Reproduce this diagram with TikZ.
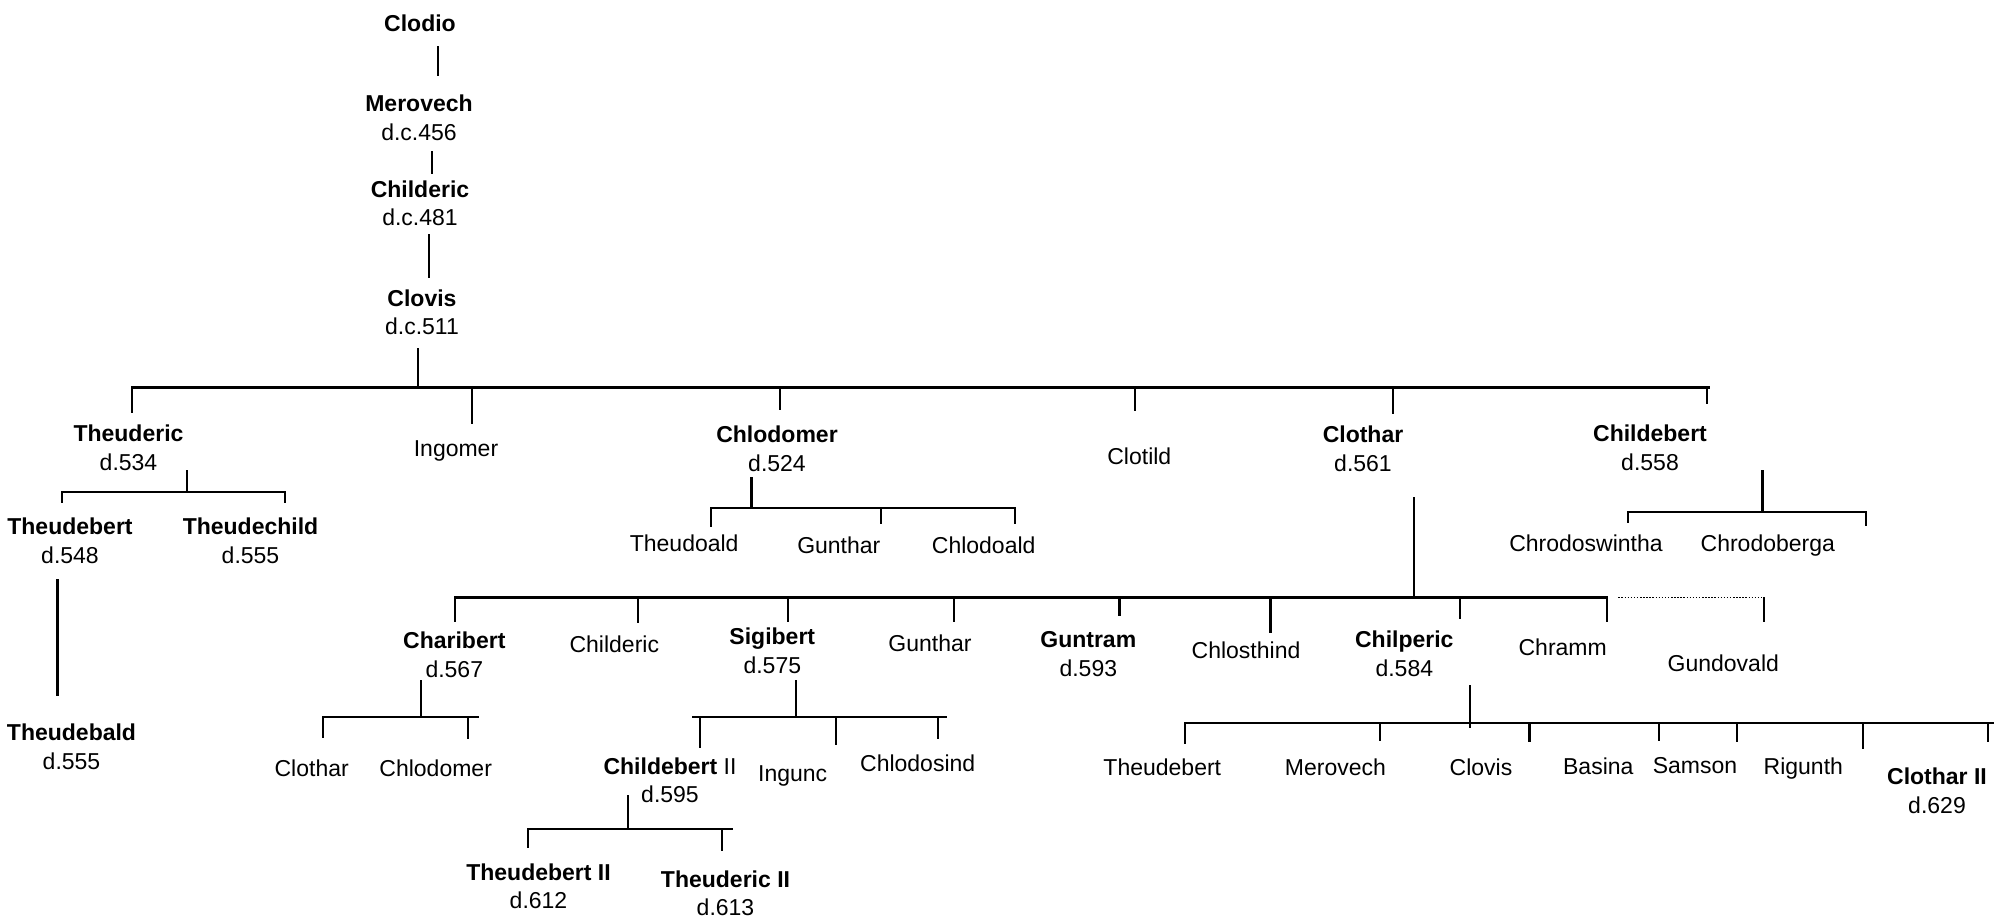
\documentclass[tikz,border=0pt]{standalone}
\usepackage{fontspec}
\setmainfont{Liberation Sans}
\begin{document}
\begin{tikzpicture}[x=1pt,y=-1pt,
  every node/.style={inner sep=0pt, font=\fontsize{23}{28.5}\selectfont},
  one/.style={text depth=0pt},
  two/.style={align=center},
  bold/.style={font=\fontsize{23}{28.5}\selectfont\bfseries},
  link/.style={line width=2.2pt, line cap=rect},
  maybe/.style={line width=1.4pt, dash pattern=on 1.5pt off 1.6pt}]
\useasboundingbox (0,0) rectangle (2002,919);

% ---------- people ----------
\node[bold,one] (clodio) at (420,23.3) {Clodio};
\node[bold,two] (merovech) at (419,117.8) {Merovech\\\mdseries d.c.456};
\node[bold,two] (childeric) at (420,203.3) {Childeric\\\mdseries d.c.481};
\node[bold,two] (clovis) at (422,312.2) {Clovis\\\mdseries d.c.511};

\node[bold,two] (theuderic) at (128.5,448) {Theuderic\\\mdseries d.534};
\node[one] (ingomer) at (456,448.3) {Ingomer};
\node[bold,two] (chlodomer) at (777,449) {Chlodomer\\\mdseries d.524};
\node[one] (clotild) at (1139.3,455.7) {Clotild};
\node[bold,two] (clothar) at (1363,448.7) {Clothar\\\mdseries d.561};
\node[bold,two] (childebert) at (1650,448) {Childebert\\\mdseries d.558};

\node[bold,two] (theudebert) at (70,541) {Theudebert\\\mdseries d.548};
\node[bold,two] (theudechild) at (250.5,541) {Theudechild\\\mdseries d.555};
\node[bold,two] (theudebald) at (71.5,746.7) {Theudebald\\\mdseries d.555};

\node[one] (theudoald) at (684.2,543.3) {Theudoald};
\node[one] (gunthara) at (838.8,545) {Gunthar};
\node[one] (chlodoald) at (983.7,545) {Chlodoald};

\node[one] (chrodoswintha) at (1586,542.7) {Chrodoswintha};
\node[one] (chrodoberga) at (1767.8,542.7) {Chrodoberga};

\node[bold,two] (charibert) at (454.3,654.7) {Charibert\\\mdseries d.567};
\node[one] (childericb) at (614.3,643.7) {Childeric};
\node[bold,two] (sigibert) at (772.3,650.8) {Sigibert\\\mdseries d.575};
\node[one] (guntharb) at (930,643.3) {Gunthar};
\node[bold,two] (guntram) at (1088.3,654) {Guntram\\\mdseries d.593};
\node[one] (chlosthind) at (1246,650) {Chlosthind};
\node[bold,two] (chilperic) at (1404.3,654) {Chilperic\\\mdseries d.584};
\node[one] (chramm) at (1562.7,646.7) {Chramm};
\node[one] (gundovald) at (1723.3,663.3) {Gundovald};

\node[one] (clotharb) at (311.7,768.3) {Clothar};
\node[one] (chlodomerb) at (435.7,768.3) {Chlodomer};

\node[two] (childebertii) at (670,780.3) {{\bfseries Childebert} II\\d.595};
\node[one] (ingunc) at (792.7,773.3) {Ingunc};
\node[one] (chlodosind) at (917.7,762.7) {Chlodosind};

\node[bold,two] (theudebertii) at (538.5,886.3) {Theudebert II\\\mdseries d.612};
\node[bold,two] (theudericii) at (725.5,893.3) {Theuderic II\\\mdseries d.613};

\node[one] (theudebertb) at (1162.3,766.7) {Theudebert};
\node[one] (merovechb) at (1335.4,766.7) {Merovech};
\node[one] (clovisb) at (1481,766.7) {Clovis};
\node[one] (basina) at (1598.3,765.7) {Basina};
\node[one] (samson) at (1695,765.7) {Samson};
\node[one] (rigunth) at (1803.3,765.7) {Rigunth};
\node[bold,two] (clotharii) at (1937,790.8) {Clothar II\\\mdseries d.629};

% ---------- connector points ----------
% direct line of descent
\coordinate (clodio-d) at (438,47);      \coordinate (merovech-u) at (438,75);
\coordinate (merovech-d) at (432,152);   \coordinate (childeric-u) at (432,173);
\coordinate (childeric-d) at (429,235);  \coordinate (clovis-u) at (429,277);
\coordinate (clovis-d) at (418,349);     \coordinate (clovis-j) at (418,387.5);
% children of Clovis
\coordinate (b0-l) at (132,387.5);       \coordinate (b0-r) at (1709,387.5);
\coordinate (theuderic-t) at (132,387.5);   \coordinate (theuderic-u) at (132,412);
\coordinate (ingomer-t) at (471.7,387.5);   \coordinate (ingomer-u) at (471.7,422.7);
\coordinate (chlodomer-t) at (780,387.5);   \coordinate (chlodomer-u) at (780,409);
\coordinate (clotild-t) at (1135,387.5);    \coordinate (clotild-u) at (1135,410);
\coordinate (clothar-t) at (1393,387.5);    \coordinate (clothar-u) at (1393,413);
\coordinate (childebert-t) at (1707,387.5); \coordinate (childebert-u) at (1707,403);
% children of Theuderic
\coordinate (theuderic-d) at (187.3,470.7); \coordinate (theuderic-j) at (187.3,491.7);
\coordinate (b1-l) at (61.7,491.7);         \coordinate (b1-r) at (285,491.7);
\coordinate (theudebert-u) at (61.7,502);   \coordinate (theudechild-u) at (285,502);
\coordinate (theudebert-d) at (57.5,580);   \coordinate (theudebald-u) at (57.5,695);
% children of Chlodomer
\coordinate (chlodomer-d) at (751.5,478.3); \coordinate (chlodomer-j) at (751.5,507.7);
\coordinate (b2-l) at (711,507.7);          \coordinate (b2-r) at (1015,507.7);
\coordinate (theudoald-u) at (711,525.7);
\coordinate (gunthara-t) at (880.6,507.7);  \coordinate (gunthara-u) at (880.6,523.3);
\coordinate (chlodoald-u) at (1015,522.7);
% children of Childebert
\coordinate (childebert-d) at (1762.5,471); \coordinate (childebert-j) at (1762.5,511.7);
\coordinate (b3-l) at (1627.7,511.7);       \coordinate (b3-r) at (1866.3,511.7);
\coordinate (chrodoswintha-u) at (1627.7,521.7);
\coordinate (chrodoberga-u) at (1866.3,525);
% children of Clothar
\coordinate (clothar-d) at (1414.2,498.3);  \coordinate (clothar-j) at (1414.2,597.5);
\coordinate (b4-l) at (455,597.5);          \coordinate (b4-r) at (1606.7,597.5);
\coordinate (charibert-u) at (455,620.7);
\coordinate (childericb-t) at (638.3,597.5); \coordinate (childericb-u) at (638.3,621.7);
\coordinate (sigibert-t) at (788.3,597.5);   \coordinate (sigibert-u) at (788.3,621);
\coordinate (guntharb-t) at (954,597.5);     \coordinate (guntharb-u) at (954,621);
\coordinate (guntram-t) at (1119.4,597.5);   \coordinate (guntram-u) at (1119.4,615);
\coordinate (chlosthind-t) at (1270.4,597.5); \coordinate (chlosthind-u) at (1270.4,631.7);
\coordinate (chilperic-t) at (1459.8,597.5); \coordinate (chilperic-u) at (1459.8,618.3);
\coordinate (chramm-u) at (1606.7,621);
\coordinate (dot-l) at (1618.3,597.7);       \coordinate (gundovald-t) at (1764,597.7);
\coordinate (gundovald-u) at (1764,621);
% children of Charibert
\coordinate (charibert-d) at (420.7,680.7);  \coordinate (charibert-j) at (420.7,717.3);
\coordinate (b5-l) at (323.3,717.3);         \coordinate (b5-r) at (478.3,717.3);
\coordinate (clotharb-u) at (323.3,736.7);
\coordinate (chlodomerb-t) at (468.3,717.3); \coordinate (chlodomerb-u) at (468.3,738.3);
% children of Sigibert
\coordinate (sigibert-d) at (796,680.7);     \coordinate (sigibert-j) at (796,716.7);
\coordinate (b6-l) at (693.3,716.7);         \coordinate (b6-r) at (946,716.7);
\coordinate (childebertii-t) at (700.3,716.7); \coordinate (childebertii-u) at (700.3,747.3);
\coordinate (ingunc-t) at (836,716.7);       \coordinate (ingunc-u) at (836,744);
\coordinate (chlodosind-t) at (938.3,716.7); \coordinate (chlodosind-u) at (938.3,737.7);
% children of Childebert II
\coordinate (childebertii-d) at (628.3,796); \coordinate (childebertii-j) at (628.3,829);
\coordinate (b7-l) at (528.3,829);           \coordinate (b7-r) at (731.7,829);
\coordinate (theudebertii-u) at (528.3,846.7);
\coordinate (theudericii-t) at (721.7,829);  \coordinate (theudericii-u) at (721.7,850);
% children of Chilperic
\coordinate (chilperic-d) at (1470.2,686);   \coordinate (chilperic-j) at (1470.2,727.3);
\coordinate (b8-l) at (1184.8,723.3);        \coordinate (b8-r) at (1993,723.3);
\coordinate (theudebertb-t) at (1184.8,723.3); \coordinate (theudebertb-u) at (1184.8,743.3);
\coordinate (merovechb-t) at (1379.7,723.3); \coordinate (merovechb-u) at (1379.7,740);
\coordinate (clovisb-t) at (1529.5,723.3);   \coordinate (clovisb-u) at (1529.5,740.5);
\coordinate (basina-t) at (1659.3,723.3);    \coordinate (basina-u) at (1659.3,740.3);
\coordinate (samson-t) at (1736.7,723.3);    \coordinate (samson-u) at (1736.7,741);
\coordinate (rigunth-t) at (1863.3,723.3);   \coordinate (rigunth-u) at (1863.3,747.7);
\coordinate (clotharii-t) at (1988.3,723.3); \coordinate (clotharii-u) at (1988.3,741);

% ---------- connectors ----------
\draw[link] (clodio-d) -- (merovech-u);
\draw[link] (merovech-d) -- (childeric-u);
\draw[link] (childeric-d) -- (clovis-u);
\draw[link] (clovis-d) -- (clovis-j);
\draw[link] (b0-l) -- (b0-r);
\foreach \c in {theuderic,ingomer,chlodomer,clotild,clothar,childebert}
  \draw[link] (\c-t) -- (\c-u);

\draw[link] (theuderic-d) -- (theuderic-j);
\draw[link] (theudebert-u) -- (b1-l) -- (b1-r) -- (theudechild-u);
\draw[link] (theudebert-d) -- (theudebald-u);

\draw[link] (chlodomer-d) -- (chlodomer-j);
\draw[link] (theudoald-u) -- (b2-l) -- (b2-r) -- (chlodoald-u);
\draw[link] (gunthara-t) -- (gunthara-u);

\draw[link] (childebert-d) -- (childebert-j);
\draw[link] (chrodoswintha-u) -- (b3-l) -- (b3-r) -- (chrodoberga-u);

\draw[link] (clothar-d) -- (clothar-j);
\draw[link] (charibert-u) -- (b4-l) -- (b4-r) -- (chramm-u);
\foreach \c in {childericb,sigibert,guntharb,guntram,chlosthind,chilperic}
  \draw[link] (\c-t) -- (\c-u);
\draw[maybe] (dot-l) -- (gundovald-t);
\draw[link] (gundovald-t) -- (gundovald-u);

\draw[link] (charibert-d) -- (charibert-j);
\draw[link] (clotharb-u) -- (b5-l) -- (b5-r);
\draw[link] (chlodomerb-t) -- (chlodomerb-u);

\draw[link] (sigibert-d) -- (sigibert-j);
\draw[link] (b6-l) -- (b6-r);
\foreach \c in {childebertii,ingunc,chlodosind}
  \draw[link] (\c-t) -- (\c-u);

\draw[link] (childebertii-d) -- (childebertii-j);
\draw[link] (theudebertii-u) -- (b7-l) -- (b7-r);
\draw[link] (theudericii-t) -- (theudericii-u);

\draw[link] (chilperic-d) -- (chilperic-j);
\draw[link] (b8-l) -- (b8-r);
\foreach \c in {theudebertb,merovechb,clovisb,basina,samson,rigunth,clotharii}
  \draw[link] (\c-t) -- (\c-u);
\end{tikzpicture}
\end{document}
